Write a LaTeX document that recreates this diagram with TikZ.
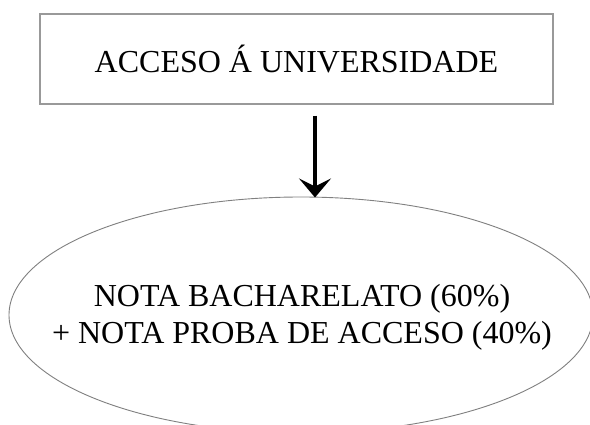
\documentclass[tikz,border=0pt]{standalone}
\usepackage{fontspec}
\setmainfont{Liberation Serif}
\usetikzlibrary{arrows.meta}
\tikzset{
  boxnode/.style={draw=black!40, line width=1.1pt, minimum width=513pt, minimum height=90pt, inner sep=0pt, font=\fontsize{32}{37}\selectfont},
  elltext/.style={inner sep=0pt, align=center, font=\fontsize{32}{37}\selectfont},
  ellline/.style={draw=black!50, line width=0.9pt},
  flowarrow/.style={line width=4pt, -{Stealth[length=19pt,width=32pt,inset=8pt,line width=1.5pt]}}
}
\begin{document}
\begin{tikzpicture}[x=1pt,y=-1pt]
\clip (0,0) rectangle (590,425);
\fill[white] (0,0) rectangle (590,425);
\node[boxnode] (top) at (296.5,59) {ACCESO Á UNIVERSIDADE};
\node[elltext] (ell) at (302,317) {NOTA BACHARELATO (60\%)\\+ NOTA PROBA DE ACCESO (40\%)};
\coordinate (ellc) at (301,315);
\draw[ellline] (ellc) ellipse [x radius=292, y radius=118];
\path (top.south) ++(18.5,11) coordinate (astart);
\path (ellc) ++(0,-117.5) coordinate (elltop);
\draw[flowarrow] (astart) -- (astart |- elltop);
\end{tikzpicture}
\end{document}
